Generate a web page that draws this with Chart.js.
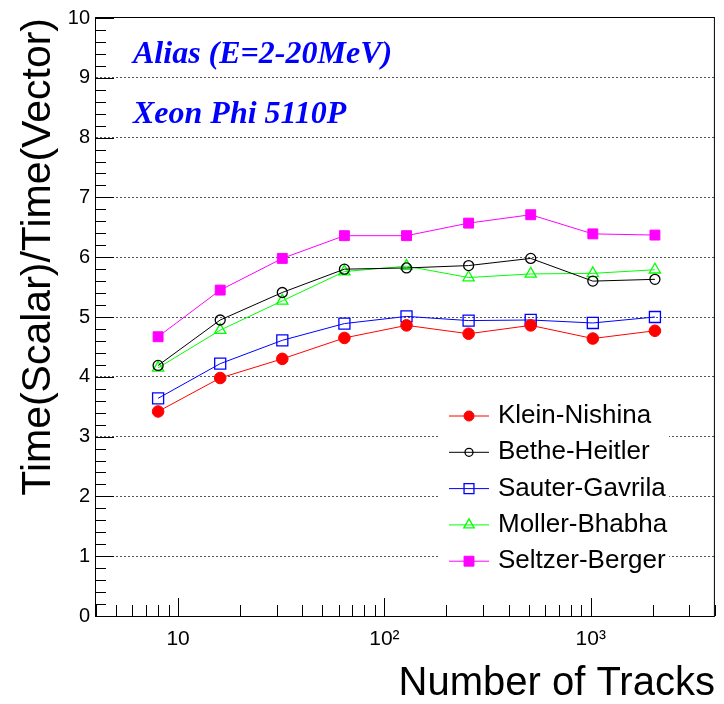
<!DOCTYPE html>
<html>
<head>
<meta charset="utf-8">
<title>Time(Scalar)/Time(Vector) vs Number of Tracks</title>
<script src="https://cdn.jsdelivr.net/npm/chart.js@4.4.0/dist/chart.umd.min.js"></script>
<style>
    html, body { margin: 0; padding: 0; background: #fff; }
    #wrap { width: 724px; height: 704px; }
</style>
</head>
<body>
<div id="wrap"><canvas id="ratio-chart" width="724" height="704"></canvas></div>
<script>
// values
const tracks = [8, 16, 32, 64, 128, 256, 512, 1024, 2048];
const kleinNishina  = [3.42, 3.98, 4.30, 4.65, 4.86, 4.72, 4.86, 4.64, 4.77];
const betheHeitler  = [4.19, 4.95, 5.41, 5.80, 5.82, 5.86, 5.98, 5.60, 5.63];
const sauterGavrila = [3.64, 4.22, 4.61, 4.89, 5.01, 4.94, 4.95, 4.90, 5.00];
const mollerBhabha  = [4.15, 4.78, 5.27, 5.76, 5.85, 5.66, 5.72, 5.73, 5.79];
const seltzerBerger = [4.67, 5.45, 5.98, 6.36, 6.36, 6.57, 6.71, 6.39, 6.37];

const xMajorTicks = [10, 100, 1000];
const xTickLabels = ['10', '10\u00B2', '10\u00B3'];
const notes = ['Alias (E=2-20MeV)', 'Xeon Phi 5110P'];

const SANS = '"Liberation Sans", Arial, Helvetica, sans-serif';

function toPoints(values) {
    return values.map((v, i) => ({ x: tracks[i], y: v }));
}

function series(label, values, color, style, radius, filled, legendRadius) {
    return {
        label: label,
        data: toPoints(values),
        borderColor: color,
        borderWidth: 1,
        tension: 0,
        pointStyle: style,
        pointRadius: radius,
        pointHoverRadius: radius,
        pointBackgroundColor: filled ? color : 'rgba(0,0,0,0)',
        pointBorderColor: color,
        pointBorderWidth: filled ? 1 : 1.3,
        legendRadius: legendRadius,
        filled: filled
    };
}

// own marker drawing for the legend box
function drawMarker(ctx, ds, x, y) {
    const r = ds.legendRadius;
    ctx.beginPath();
    if (ds.pointStyle === 'circle') {
        ctx.arc(x, y, r, 0, Math.PI * 2);
    } else if (ds.pointStyle === 'rect') {
        const h = r * Math.SQRT1_2;
        ctx.rect(x - h, y - h, 2 * h, 2 * h);
    } else if (ds.pointStyle === 'triangle') {
        ctx.moveTo(x, y - r);
        ctx.lineTo(x + r * 0.866, y + r * 0.5);
        ctx.lineTo(x - r * 0.866, y + r * 0.5);
        ctx.closePath();
    }
    if (ds.filled) {
        ctx.fillStyle = ds.borderColor;
        ctx.fill();
    }
    ctx.strokeStyle = ds.borderColor;
    ctx.lineWidth = ds.pointBorderWidth;
    ctx.stroke();
}

const rootLegend = {
    id: 'rootLegend',
    afterDatasetsDraw(chart) {
        const ctx = chart.ctx;
        ctx.save();
        ctx.fillStyle = '#fff';
        ctx.fillRect(440, 397, 229, 182);
        chart.data.datasets.forEach((ds, i) => {
            const y = 416 + i * 36.3;
            ctx.strokeStyle = ds.borderColor;
            ctx.lineWidth = 1;
            ctx.beginPath();
            ctx.moveTo(449, y);
            ctx.lineTo(489, y);
            ctx.stroke();
            drawMarker(ctx, ds, 469, y);
            ctx.fillStyle = '#000';
            ctx.font = '26px ' + SANS;
            ctx.textBaseline = 'middle';
            ctx.textAlign = 'left';
            ctx.fillText(ds.label, 498, y);
        });
        ctx.restore();
    }
};

// ROOT style frame, inward ticks and the two blue notes
const frameTicks = {
    id: 'frameTicks',
    afterDraw(chart) {
        const { ctx, chartArea: a, scales: { x, y } } = chart;
        ctx.save();
        ctx.strokeStyle = '#000';
        ctx.lineWidth = 1;
        ctx.strokeRect(a.left - 0.5, a.top - 0.5, a.right - a.left, a.bottom - a.top + 1);

        ctx.beginPath();
        for (let i = 0; i <= 50; i++) {
            const py = Math.round(y.getPixelForValue(i / 5)) + 0.5;
            const len = i % 5 === 0 ? 18 : 10;
            ctx.moveTo(a.left, py);
            ctx.lineTo(a.left + len, py);
        }
        for (let k = 0; k <= 3; k++) {
            for (let m = 1; m <= 9; m++) {
                const v = m * Math.pow(10, k);
                if (v < x.min || v > x.max) continue;
                const px = Math.round(x.getPixelForValue(v)) + 0.5;
                const len = m === 1 ? 18 : 11;
                ctx.moveTo(px, a.bottom);
                ctx.lineTo(px, a.bottom - len);
            }
        }
        ctx.stroke();

        ctx.fillStyle = '#0000ff';
        ctx.font = 'italic bold 32px "Liberation Serif", "Times New Roman", serif';
        ctx.textBaseline = 'alphabetic';
        ctx.textAlign = 'left';
        ctx.fillText(notes[0], 133, 63);
        ctx.fillText(notes[1], 133, 123);
        ctx.restore();
    }
};

new Chart(document.getElementById('ratio-chart'), {
    type: 'line',
    data: {
        datasets: [
            series('Klein-Nishina', kleinNishina, '#ff0000', 'circle', 5.8, true, 5),
            series('Bethe-Heitler', betheHeitler, '#000000', 'circle', 5, false, 4),
            series('Sauter-Gavrila', sauterGavrila, '#0000ff', 'rect', 7.8, false, 7),
            series('Moller-Bhabha', mollerBhabha, '#00ff00', 'triangle', 6.5, false, 6),
            series('Seltzer-Berger', seltzerBerger, '#ff00ff', 'rect', 7, true, 7)
        ]
    },
    options: {
        responsive: false,
        animation: false,
        layout: { padding: { top: 16, right: 5, bottom: 0, left: 0 } },
        plugins: {
            legend: { display: false },
            tooltip: { enabled: false }
        },
        scales: {
            x: {
                type: 'logarithmic',
                min: 4,
                max: 4000,
                afterBuildTicks(scale) {
                    scale.ticks = xMajorTicks.map(v => ({ value: v }));
                },
                afterFit(scale) { scale.height = 88; },
                ticks: {
                    autoSkip: false,
                    maxRotation: 0,
                    padding: 11,
                    color: '#000',
                    font: { family: SANS, size: 21 },
                    callback: (value) => {
                        const i = xMajorTicks.indexOf(value);
                        return i >= 0 ? xTickLabels[i] : '';
                    }
                },
                grid: { display: false, drawTicks: false },
                border: { display: false },
                title: {
                    display: true,
                    text: 'Number of Tracks',
                    align: 'end',
                    color: '#000',
                    padding: { top: 0, bottom: 0 },
                    font: { family: SANS, size: 40, lineHeight: 1 }
                }
            },
            y: {
                min: 0,
                max: 10,
                afterFit(scale) { scale.width = 96; },
                ticks: {
                    stepSize: 1,
                    padding: 6,
                    color: '#000',
                    font: { family: SANS, size: 20 }
                },
                grid: {
                    drawTicks: false,
                    lineWidth: 1,
                    color: (c) => (c.tick && (c.tick.value === 0 || c.tick.value === 10)) ? 'rgba(0,0,0,0)' : '#555'
                },
                border: { display: false, dash: [2, 2] },
                title: {
                    display: true,
                    text: 'Time(Scalar)/Time(Vector)',
                    align: 'end',
                    color: '#000',
                    padding: { top: 18, bottom: 0 },
                    font: { family: SANS, size: 41, lineHeight: 1 }
                }
            }
        }
    },
    plugins: [rootLegend, frameTicks]
});
</script>
</body>
</html>
